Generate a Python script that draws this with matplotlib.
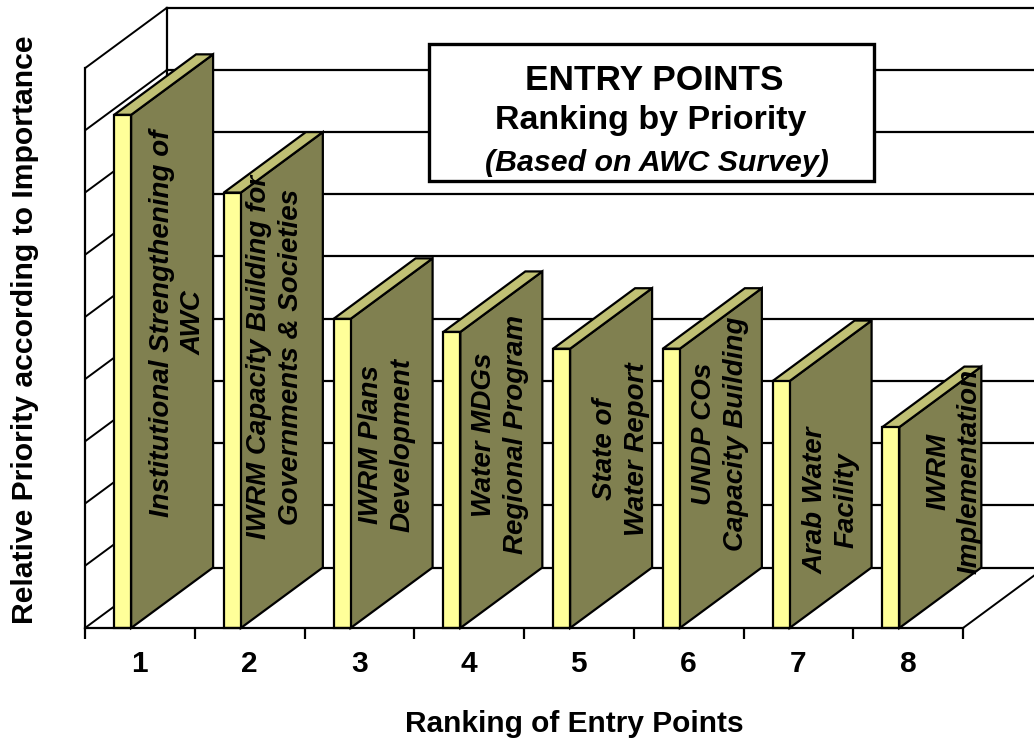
import matplotlib
matplotlib.use("Agg")
import matplotlib.pyplot as plt
from matplotlib.patches import Polygon, Rectangle
from matplotlib.transforms import Affine2D

plt.rcParams['font.family'] = ['Liberation Sans', 'DejaVu Sans']

# ---- data ----
ranks = [1, 2, 3, 4, 5, 6, 7, 8]
priority = [8.25, 7.0, 4.97, 4.76, 4.49, 4.49, 3.97, 3.23]
bar_labels = [
    "Institutional Strengthening of\nAWC",
    "IWRM Capacity Building for\nGovernments & Societies",
    "IWRM Plans\nDevelopment",
    "Water MDGs\nRegional Program",
    "State of\nWater Report",
    "UNDP COs\nCapacity Building",
    "Arab Water\nFacility",
    "IWRM\nImplementation",
]
grid_levels = [0, 1, 2, 3, 4, 5, 6, 7, 8, 9]

# ---- layout ----
W, H = 1034, 741
X0, XSTEP = 85.0, 109.75
Y0, YSTEP = 628.0, 62.2
DEPTH_X = 82 / XSTEP
DEPTH_Y = 60.5 / YSTEP
BAR_L, BAR_R = 0.265, 0.42
label_px = [(178, 323), (275, 357), (387, 445), (500, 435),
            (621, 449), (720, 434), (831, 500), (954, 471)]

fig = plt.figure(figsize=(W / 100, H / 100), dpi=100)
ax = fig.add_axes([0, 0, 1, 1])
ax.set_xlim(-X0 / XSTEP, (W - X0) / XSTEP)
ax.set_ylim((Y0 - H) / YSTEP, Y0 / YSTEP)
px = Affine2D().scale(1 / W, -1 / H).translate(0, 1) + fig.transFigure

LW = 1.6
x_end = (W - X0) / XSTEP

# walls and grid
for lv in grid_levels:
    ax.plot([0, DEPTH_X], [lv, lv + DEPTH_Y], color='black', lw=1.4, zorder=1,
            solid_capstyle='round')
    ax.plot([DEPTH_X, x_end], [lv + DEPTH_Y] * 2, color='black', lw=LW, zorder=1)
ax.plot([DEPTH_X, DEPTH_X], [DEPTH_Y, 9 + DEPTH_Y], color='black', lw=LW, zorder=1)
ax.plot([len(ranks), len(ranks) + DEPTH_X], [0, DEPTH_Y], color='black', lw=1.4, zorder=1)

# bars
for i, v in enumerate(priority):
    l, r = i + BAR_L, i + BAR_R
    ax.add_patch(Polygon([(r, 0), (r + DEPTH_X, DEPTH_Y), (r + DEPTH_X, v + DEPTH_Y), (r, v)],
                         facecolor='#808050', edgecolor='black', lw=LW, zorder=2,
                         joinstyle='miter'))
    ax.add_patch(Polygon([(l, v), (r, v), (r + DEPTH_X, v + DEPTH_Y), (l + DEPTH_X, v + DEPTH_Y)],
                         facecolor='#C0C074', edgecolor='black', lw=LW, zorder=2,
                         joinstyle='miter'))
    ax.add_patch(Rectangle((l, 0), r - l, v, facecolor='#FFFF99', edgecolor='black',
                           lw=LW, zorder=2.1))
    ax.text(*label_px[i], bar_labels[i], transform=px, rotation=90, ha='center', va='center',
            multialignment='center', fontsize=20, fontweight='bold', fontstyle='italic',
            linespacing=1.27, color='black', zorder=3)

# axes
for s in ('top', 'right'):
    ax.spines[s].set_visible(False)
ax.spines['bottom'].set_position(('data', 0))
ax.spines['bottom'].set_bounds(0, len(ranks))
ax.spines['left'].set_position(('data', 0))
ax.spines['left'].set_bounds(0, 9)
for s in ('bottom', 'left'):
    ax.spines[s].set_linewidth(LW)
    ax.spines[s].set_zorder(2.5)
ax.set_yticks([])
ax.set_xticks(range(len(ranks) + 1))
ax.set_xticklabels([])
ax.tick_params(axis='x', which='major', length=8, width=LW, direction='out')
ax.set_xticks([i + 0.5 for i in range(len(ranks))], minor=True)
ax.set_xticklabels([str(r) for r in ranks], minor=True, fontsize=21.5, fontweight='bold')
ax.tick_params(axis='x', which='minor', length=0, pad=16)

# axis titles
ax.text(574, 724, "Ranking of Entry Points", transform=px, ha='center', va='center',
        fontsize=21.5, fontweight='bold')
ax.text(25, 330, "Relative Priority according to Importance", transform=px, rotation=90,
        ha='center', va='center', fontsize=21.7, fontweight='bold')

# title box
box = Rectangle((429, 44), 445, 137, transform=px, facecolor='white', edgecolor='black',
                lw=2.4, zorder=4, joinstyle='miter')
ax.add_patch(box)
ax.text(654, 80, "ENTRY POINTS", transform=px, ha='center', va='center',
        fontsize=25.4, fontweight='bold', zorder=5)
ax.text(651, 120, "Ranking by Priority", transform=px, ha='center', va='center',
        fontsize=24.5, fontweight='bold', zorder=5)
sub = ax.text(657, 163, "(Based on AWC Survey)", transform=px, ha='center', va='center',
              fontsize=21.8, fontweight='bold', fontstyle='italic', zorder=5)
sub.set_clip_path(Rectangle((431, 46), 398, 133, transform=px))

fig.savefig('out.png', dpi=100)
